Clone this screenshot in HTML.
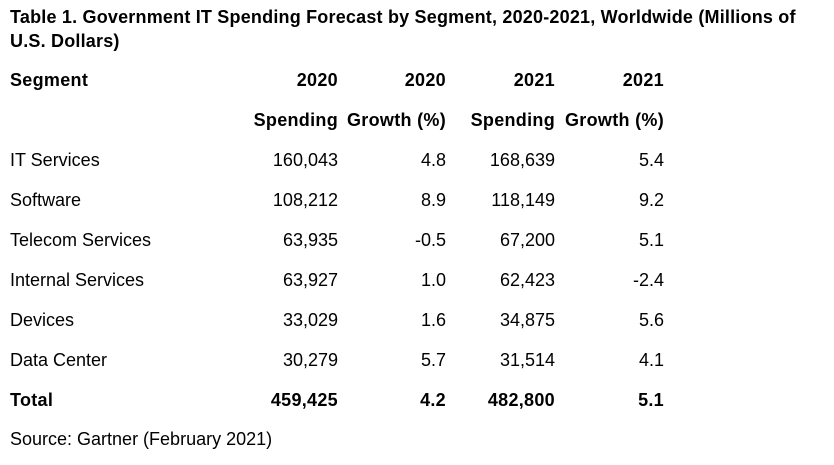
<!DOCTYPE html>
<html><head><meta charset="utf-8"><style>
body{margin:0;width:834px;height:465px;background:#fff;font-family:"Liberation Sans",sans-serif;color:#000;position:relative;overflow:hidden}
.t{position:absolute;font-size:18px;line-height:20px;white-space:nowrap}
.b{font-weight:bold;letter-spacing:0.3px}
#title{position:absolute;left:10px;top:5px;font-size:18px;font-weight:bold;line-height:24px;white-space:nowrap;letter-spacing:0.2px}
</style></head><body>
<div id="title">Table 1. Government IT Spending Forecast by Segment, 2020-2021, Worldwide (Millions of<br>U.S. Dollars)</div>
<div id="tbl"></div>
<div class="t" style="left:10px;top:429px">Source: Gartner (February 2021)</div>
<script>
const segments=["IT Services","Software","Telecom Services","Internal Services","Devices","Data Center","Total"];
const spend2020=["160,043","108,212","63,935","63,927","33,029","30,279","459,425"];
const growth2020=["4.8","8.9","-0.5","1.0","1.6","5.7","4.2"];
const spend2021=["168,639","118,149","67,200","62,423","34,875","31,514","482,800"];
const growth2021=["5.4","9.2","5.1","-2.4","5.6","4.1","5.1"];
const headers1=["2020","2020","2021","2021"];
const headers2=["Spending","Growth (%)","Spending","Growth (%)"];
const rights=[338,446,555,664];
const tbl=document.getElementById('tbl');
function cell(txt,x,y,bold,right,name){
  const d=document.createElement('div');
  d.className='t'+(bold?' b':'');
  d.textContent=txt;
  d.style.top=(y-10)+'px';
  if(right){d.style.right=(834-x)+'px';}else{d.style.left=x+'px';}
  
  
  tbl.appendChild(d);
}
cell("Segment",10,80,true,false,'segment-header');
headers1.forEach((h,i)=>cell(h,rights[i],80,true,true,'year-header'));
headers2.forEach((h,i)=>cell(h,rights[i],120,true,true,'metric-header'));
segments.forEach((s,i)=>{
  const y=160+i*40;const b=(s==="Total");
  cell(s,10,y,b,false,'segment-label');
  cell(spend2020[i],rights[0],y,b,true,'spending-2020');
  cell(growth2020[i],rights[1],y,b,true,'growth-2020');
  cell(spend2021[i],rights[2],y,b,true,'spending-2021');
  cell(growth2021[i],rights[3],y,b,true,'growth-2021');
});
</script>
</body></html>
